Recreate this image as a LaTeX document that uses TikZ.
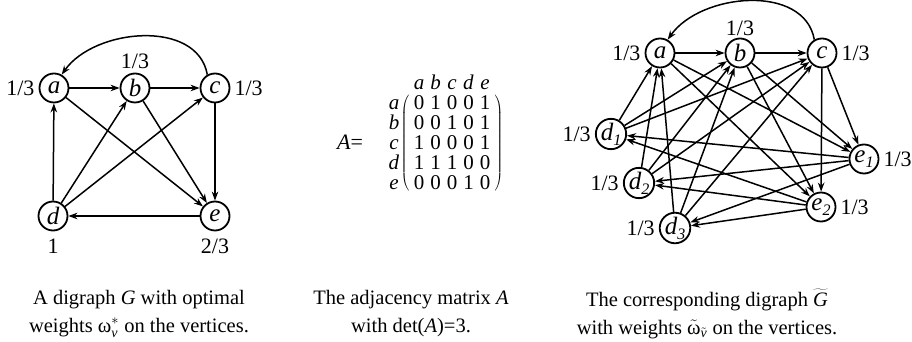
\documentclass[tikz,border=0pt]{standalone}
\usepackage{fontspec}
\setmainfont{Liberation Serif}
\usetikzlibrary{arrows.meta,positioning,matrix}
\newcommand{\vtx}[2]{\textit{#1}\raisebox{-.45ex}{\fontsize{16}{16}\selectfont #2}}

\begin{document}
\begin{tikzpicture}[x=1pt, y=1pt, >={Stealth[length=9pt,width=6.5pt]},
    vertex/.style={draw, circle, line width=1.8pt, minimum size=29pt, inner sep=0pt, font=\fontsize{25}{25}\selectfont\itshape},
    weight/.style={inner sep=0pt, font=\fontsize{22}{22}\selectfont},
    entry/.style={inner sep=0pt, text height=14pt, text depth=0pt, font=\fontsize{21}{21}\selectfont},
    edge/.style={->, line width=1.5pt},
    caption/.style={align=center, font=\fontsize{20.5}{28}\selectfont}]

	\useasboundingbox (0,0) rectangle (912,342);

	% Nodes of G
	\node[vertex] (a) at (54,254) {a};
	\node[vertex] (b) at (135,254) {b};
	\node[vertex] (c) at (215,254) {c};
	\node[vertex] (d) at (53,126) {d};
	\node[vertex] (e) at (215,126) {e};

	% Weights of G
	\node[weight, left=4pt of a] (wa) {1/3};
	\node[weight, above=4pt of b] (wb) {1/3};
	\node[weight, right=4pt of c] (wc) {1/3};
	\node[weight, below=7pt of d] (wd) {1};
	\node[weight, below=7pt of e] (we) {2/3};

	% Arrows of G
	\draw[edge] (a) -- (b);
	\draw[edge] (b) -- (c);
	\draw[edge] (c.120) to[out=100, in=55] (a.60);
	\draw[edge] (a) -- (e);
	\draw[edge] (b) -- (e);
	\draw[edge] (c) -- (e);
	\draw[edge] (d) -- (a);
	\draw[edge] (d) -- (b);
	\draw[edge] (d) -- (c);
	\draw[edge] (e) -- (d);

	% Adjacency matrix
	\node[weight] (Aeq) at (350,200) {\textit{A}=};
	\matrix (adj) [matrix of nodes, inner sep=0pt, nodes={entry, minimum width=16.5pt, minimum height=20pt},
	    left delimiter=(, right delimiter=)] at (452,199) {
		0 & 1 & 0 & 0 & 1\\
		0 & 0 & 1 & 0 & 1\\
		1 & 0 & 0 & 0 & 1\\
		1 & 1 & 1 & 0 & 0\\
		0 & 0 & 0 & 1 & 0\\
	};
	\node[entry] (ha) at ([yshift=20pt]adj-1-1) {\textit{a}};
	\node[entry] (hb) at ([yshift=20pt]adj-1-2) {\textit{b}};
	\node[entry] (hc) at ([yshift=20pt]adj-1-3) {\textit{c}};
	\node[entry] (hd) at ([yshift=20pt]adj-1-4) {\textit{d}};
	\node[entry] (he) at ([yshift=20pt]adj-1-5) {\textit{e}};
	\node[entry] (ra) at ([xshift=-25pt]adj-1-1) {\textit{a}};
	\node[entry] (rb) at ([xshift=-25pt]adj-2-1) {\textit{b}};
	\node[entry] (rc) at ([xshift=-25pt]adj-3-1) {\textit{c}};
	\node[entry] (rd) at ([xshift=-25pt]adj-4-1) {\textit{d}};
	\node[entry] (re) at ([xshift=-25pt]adj-5-1) {\textit{e}};

	% Nodes of the corresponding digraph
	\node[vertex] (ta) at (660,289) {a};
	\node[vertex] (tb) at (740,289) {b};
	\node[vertex] (tc) at (822,289) {c};
	\node[vertex] (td1) at (611,208) {\vtx{d}{1}};
	\node[vertex] (te1) at (864,183) {\vtx{e}{1}};
	\node[vertex] (td2) at (639,159) {\vtx{d}{2}};
	\node[vertex] (te2) at (821,135) {\vtx{e}{2}};
	\node[vertex] (td3) at (675,114) {\vtx{d}{3}};

	% Weights of the corresponding digraph
	\node[weight, left=4pt of ta] (wta) {1/3};
	\node[weight, above=2pt of tb] (wtb) {1/3};
	\node[weight, right=4pt of tc] (wtc) {1/3};
	\node[weight, left=4pt of td1] (wtd1) {1/3};
	\node[weight, right=4pt of te1] (wte1) {1/3};
	\node[weight, left=4pt of td2] (wtd2) {1/3};
	\node[weight, right=4pt of te2] (wte2) {1/3};
	\node[weight, left=4pt of td3] (wtd3) {1/3};

	% Arrows of the corresponding digraph
	\draw[edge] (ta) -- (tb);
	\draw[edge] (tb) -- (tc);
	\draw[edge] (tc.120) to[out=100, in=55] (ta.60);
	\draw[edge] (td1) -- (ta);
	\draw[edge] (td1) -- (tb);
	\draw[edge] (td1) -- (tc);
	\draw[edge] (td2) -- (ta);
	\draw[edge] (td2) -- (tb);
	\draw[edge] (td2) -- (tc);
	\draw[edge] (td3) -- (ta);
	\draw[edge] (td3) -- (tb);
	\draw[edge] (td3) -- (tc);
	\draw[edge] (ta) -- (te1);
	\draw[edge] (ta) -- (te2);
	\draw[edge] (tb) -- (te1);
	\draw[edge] (tb) -- (te2);
	\draw[edge] (tc) -- (te1);
	\draw[edge] (tc) -- (te2);
	\draw[edge] (te1) -- (td1);
	\draw[edge] (te1) -- (td2);
	\draw[edge] (te1) -- (td3);
	\draw[edge] (te2) -- (td1);
	\draw[edge] (te2) -- (td2);
	\draw[edge] (te2) -- (td3);

	% Captions
	\node[caption] (capG) at (139,28) {A digraph \textit{G} with optimal\\weights ω$^{*}_{\mbox{\fontsize{14}{14}\selectfont\itshape v}}$ on the vertices.};
	\node[caption] (capA) at (411,28) {The adjacency matrix \textit{A}\\with det(\textit{A})=3.};
	\node[caption] (capT) at (707,28) {The corresponding digraph $\widetilde{\mbox{\itshape G}}$\\with weights $\tilde{\mbox{ω}}_{\tilde{\mbox{\fontsize{14}{14}\selectfont\itshape v}}}$ on the vertices.};

\end{tikzpicture}
\end{document}
